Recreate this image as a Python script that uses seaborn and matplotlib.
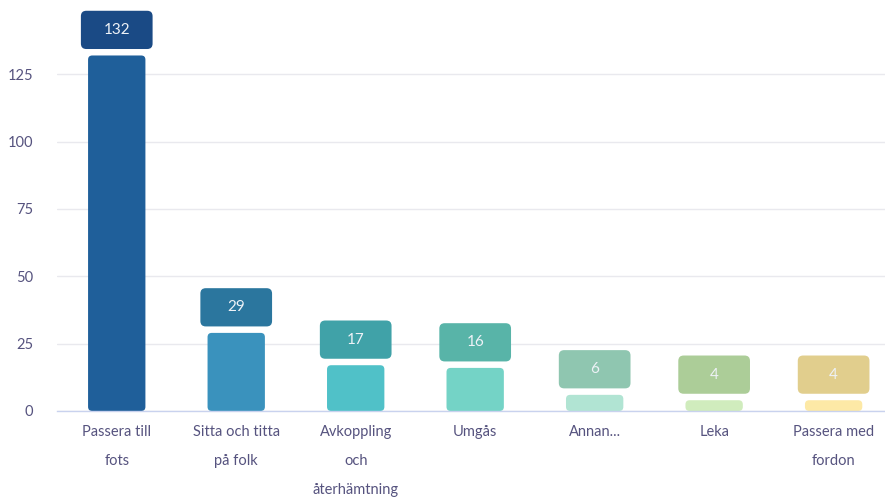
import matplotlib
matplotlib.use("Agg")
import matplotlib.pyplot as plt
import seaborn as sns
import pandas as pd
from matplotlib.patches import FancyBboxPatch

categories = ["Passera till\nfots", "Sitta och titta\npå folk", "Avkoppling\noch\nåterhämtning",
              "Umgås", "Annan...", "Leka", "Passera med\nfordon"]
values = [132, 29, 17, 16, 6, 4, 4]
bar_colors = ["#1f5f9a", "#3a92bd", "#50c1c8", "#74d3c6", "#b1e4d3", "#d0ecbd", "#fde9a6"]
box_colors = ["#1a4a85", "#2b769e", "#40a2a8", "#58b4a8", "#8fc6b0", "#accd98", "#e1ce8d"]
yticks = [0, 25, 50, 75, 100, 125]

df = pd.DataFrame({"cat": categories, "val": values})

sns.set_theme(style="white")
plt.rcParams["font.family"] = ["Lato", "DejaVu Sans"]

fig = plt.figure(figsize=(8.85, 5.01), dpi=100)
ax = fig.add_axes([57 / 885, 90 / 501, 1 - 57 / 885, 404 / 501])

sns.barplot(data=df, x="cat", y="val", hue="cat", palette=bar_colors, width=0.48,
            legend=False, ax=ax, saturation=1)

ASPECT = 119.6 / 2.696

# replace bars with rounded versions (top corners rounded; bottom hidden by baseline)
for p in list(ax.patches):
    x0, w, h = p.get_x(), p.get_width(), p.get_height()
    fc = p.get_facecolor()
    p.set_visible(False)
    rp = FancyBboxPatch((x0, 0), w, h, boxstyle="round,pad=0,rounding_size=0.035",
                        mutation_aspect=ASPECT, facecolor=fc, edgecolor="none", zorder=3)
    ax.add_patch(rp)

# value label boxes
for i, v in enumerate(values):
    bw, bh, gap = 0.6, 14.2, 2.4
    bx = FancyBboxPatch((i - bw / 2, v + gap), bw, bh,
                        boxstyle="round,pad=0,rounding_size=0.045",
                        mutation_aspect=ASPECT,
                        facecolor=box_colors[i], edgecolor="none", zorder=4)
    ax.add_patch(bx)
    ax.text(i, v + gap + bh / 2, str(v), ha="center", va="center", color="#eef2f7",
            fontsize=11, zorder=5)

ax.set_ylim(0, 150)
ax.set_xlim(-0.5, 6.43)
ax.set_yticks(yticks)
ax.set_yticklabels([str(t) for t in yticks])
ax.yaxis.grid(True, color="#e9e9ee", linewidth=1)
ax.set_axisbelow(True)
for s in ["top", "right", "left"]:
    ax.spines[s].set_visible(False)
ax.spines["bottom"].set_color("#c9d2ee")
ax.spines["bottom"].set_linewidth(1)
ax.spines["bottom"].set_zorder(6)
ax.set_xlabel("")
ax.set_ylabel("")
ax.tick_params(axis="y", length=0, pad=17, labelsize=10.5, labelcolor="#56537f")
ax.tick_params(axis="x", length=0, pad=10, labelsize=10.5, labelcolor="#56537f")
for lbl in ax.get_xticklabels():
    lbl.set_linespacing(2.35)
    lbl.set_va("top")

fig.savefig("out.png", dpi=100)
